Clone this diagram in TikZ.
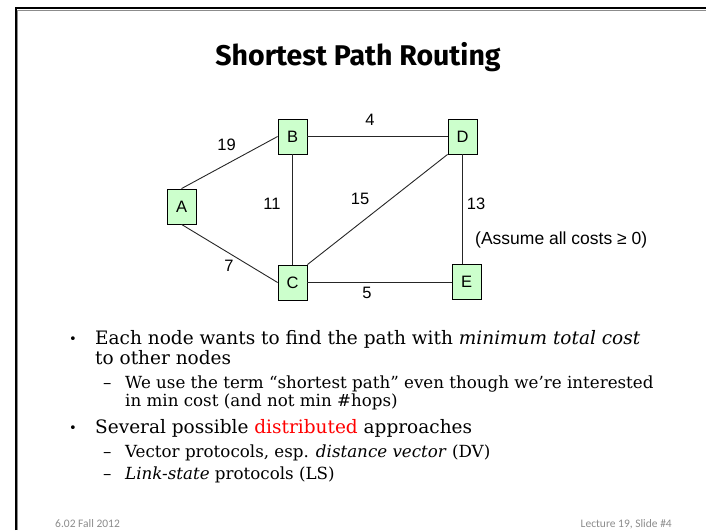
\documentclass[tikz,border=0pt]{standalone}
\usepackage{fontspec}
\setmainfont{DejaVu Serif}
\newfontfamily\arialf{Liberation Sans}
\newfontfamily\titlef{Fira Sans}
\newfontfamily\footf{Carlito}
\definecolor{nodegreen}{HTML}{CCFFCC}
\definecolor{distred}{HTML}{FF0000}
\definecolor{footgray}{HTML}{8C8C8C}
\begin{document}
\begin{tikzpicture}[x=1pt,y=-1pt,
  box/.style={draw=black, line width=0.8pt, fill=nodegreen, minimum width=29pt, minimum height=35pt, inner sep=0pt, font=\arialf\fontsize{16.5}{16.5}\selectfont},
  link/.style={draw=black!85, line width=0.9pt},
  cost/.style={font=\arialf\fontsize{16.5}{16.5}\selectfont, inner sep=0pt},
  body/.style={anchor=base west, inner sep=0pt, font=\fontsize{18.5}{18.5}\selectfont},
  sub/.style={anchor=base west, inner sep=0pt, font=\fontsize{16.7}{16.7}\selectfont},
  foot/.style={inner sep=0pt, text=footgray, font=\footf\fontsize{11.5}{11.5}\selectfont},
]
\useasboundingbox (0,0) rectangle (706,530);
% frame
\draw[black!45, line width=0.8pt] (17,530) -- (17,10) -- (706,10);
\draw[black, line width=2pt] (15.5,530) -- (15.5,8) -- (706,8);
% title
\node[anchor=base, inner sep=0pt, font=\titlef\bfseries\fontsize{28.5}{28.5}\selectfont] (title) at (358,65) {Shortest Path Routing};
% graph nodes
\node[box] (A) at (181.5,206.5) {A};
\node[box] (B) at (292.5,136.5) {B};
\node[box] (C) at (292.5,282.5) {C};
\node[box] (D) at (462.5,136.5) {D};
\node[box] (E) at (466.5,282) {E};
% links
\draw[link] (A.north) -- (B.west);
\draw[link] (A.south) -- (C.west);
\draw[link] (B.east) -- (D.west);
\draw[link] (B.south) -- (C.north);
\draw[link] (C.north east) -- (D.south west);
\draw[link] (D.south) -- (E.north -| D.south);
\draw[link] (C.east) -- (E.west |- C.east);
% costs
\node[cost] (c19) at (226.5,145) {19};
\node[cost] (c4) at (370,120) {4};
\node[cost] (c11) at (272,204) {11};
\node[cost] (c15) at (360,199) {15};
\node[cost] (c13) at (476,204) {13};
\node[cost] (c7) at (229,266) {7};
\node[cost] (c5) at (367,293) {5};
\node[cost, anchor=west, font=\arialf\fontsize{17.5}{17.5}\selectfont] (assume) at (475,240) {(Assume all costs ≥ 0)};
% bullets
\node[body] (b1) at (69,343) {\fontsize{13}{13}\selectfont•};
\node[body] (t1) at (95,344) {Each node wants to find the path with \textit{minimum total cost}};
\node[body] (t1b) at (95,364) {to other nodes};
\node[sub] (d1) at (103,388) {–};
\node[sub] (s1) at (125,388) {We use the term “shortest path” even though we’re interested};
\node[sub] (s1b) at (125,406) {in min cost (and not min \#hops)};
\node[body] (b2) at (69,432) {\fontsize{13}{13}\selectfont•};
\node[body] (t2) at (95,433) {Several possible \textcolor{distred}{distributed} approaches};
\node[sub] (d2) at (103,457) {–};
\node[sub] (s2) at (125,457) {Vector protocols, esp. \textit{distance vector} (DV)};
\node[sub] (d3) at (103,479) {–};
\node[sub] (s3) at (125,479) {\textit{Link-state} protocols (LS)};
% footer
\node[foot, anchor=base west] (f1) at (55,527) {6.02 Fall 2012};
\node[foot, anchor=base east] (f2) at (672,527) {Lecture 19, Slide \#4};
\end{tikzpicture}
\end{document}
